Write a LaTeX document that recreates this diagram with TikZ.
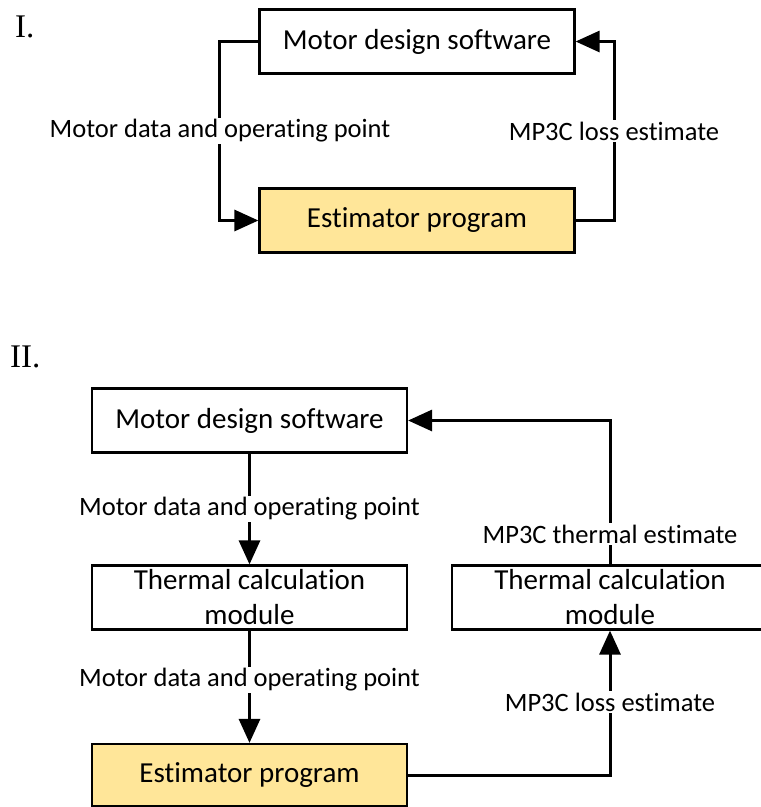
\documentclass[tikz,border=0pt]{standalone}
\usepackage{fontspec}
\setmainfont{Carlito}[Ligatures=NoCommon]
\newfontfamily\romanfont{Liberation Serif}
\usetikzlibrary{arrows.meta}
\definecolor{estfill}{HTML}{FFE699}
\tikzset{
  blockbox/.style={draw=black, line width=2.2pt, minimum width=315pt, minimum height=64pt, inner sep=0pt, align=center, font=\fontsize{29}{35}\selectfont},
  estbox/.style={blockbox, fill=estfill},
  flowlabel/.style={fill=white, inner sep=2pt, font=\fontsize{26.5}{30}\selectfont},
  partlabel/.style={anchor=base west, inner sep=0pt, font=\romanfont\fontsize{33}{36}\selectfont},
  flow/.style={line width=3pt, -{Triangle[length=24pt,width=21pt]}},
}
\begin{document}
\begin{tikzpicture}[x=1pt,y=-1pt]
\useasboundingbox (0,0) rectangle (761,807);
% Part I
\node[partlabel] (p1) at (15,37) {I.};
\node[blockbox] (mds1) at (417,41.5) {Motor design software};
\node[estbox] (est1) at (417,220.5) {Estimator program};
\draw[flow] (mds1.west) -- ++(-39,0) |- (est1.west);
\draw[flow] (est1.east) -- ++(39,0) |- (mds1.east);
\node[flowlabel] (l1) at (220,131) {Motor data and operating point};
\node[flowlabel] (l2) at (614,131) {MP3C loss estimate};
% Part II
\node[partlabel] (p2) at (10,367) {II.};
\node[blockbox] (mds2) at (249.5,420.5) {Motor design software};
\node[blockbox] (th1) at (249.5,597.5) {Thermal calculation\\module};
\node[blockbox, minimum width=316pt] (th2) at (610,597.5) {Thermal calculation\\module};
\node[estbox, minimum height=62pt] (est2) at (249.5,775) {Estimator program};
\draw[flow] (mds2.south) -- (th1.north);
\draw[flow] (th1.south) -- (est2.north);
\draw[flow] (est2.east) -| (th2.south);
\draw[flow] (th2.north) |- (mds2.east);
\node[flowlabel] (l3) at (249.5,509) {Motor data and operating point};
\node[flowlabel] (l4) at (610,534) {MP3C thermal estimate};
\node[flowlabel] (l5) at (249.5,680) {Motor data and operating point};
\node[flowlabel] (l6) at (610,702) {MP3C loss estimate};
\end{tikzpicture}
\end{document}
